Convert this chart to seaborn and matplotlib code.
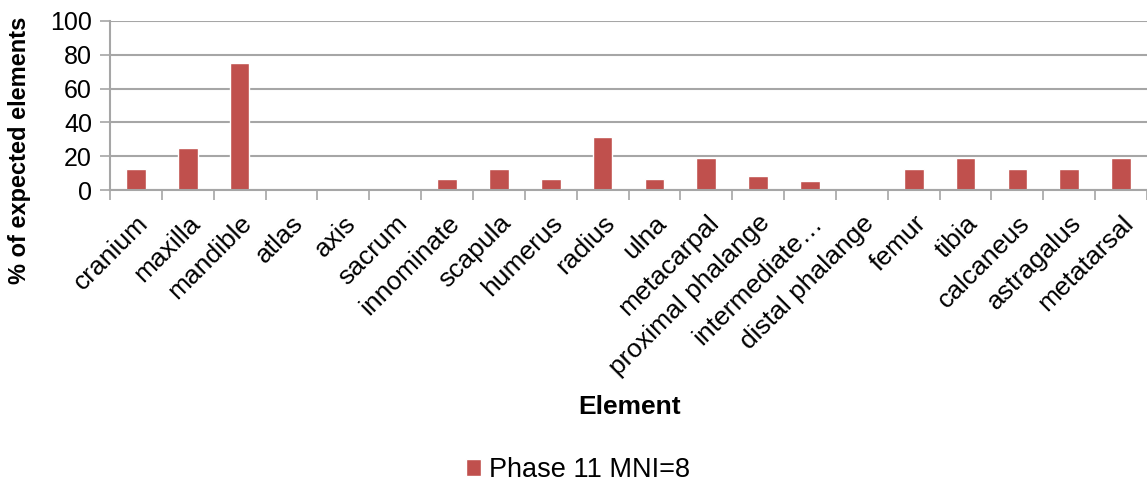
import pandas as pd
import matplotlib.pyplot as plt
import seaborn as sns
from matplotlib.ticker import FixedLocator

# Skeletal element representation, Phase 11 (MNI=8)
elements = ['cranium', 'maxilla', 'mandible', 'atlas', 'axis', 'sacrum', 'innominate',
            'scapula', 'humerus', 'radius', 'ulna', 'metacarpal', 'proximal phalange',
            'intermediate\u2026', 'distal phalange', 'femur', 'tibia', 'calcaneus',
            'astragalus', 'metatarsal']
pct_expected = [12.5, 25.0, 75.0, 0, 0, 0, 6.25, 12.5, 6.25, 31.25, 6.25, 18.75, 8.5,
                5.5, 0, 12.5, 18.75, 12.5, 12.5, 18.75]
y_ticks = [0, 20, 40, 60, 80, 100]

df = pd.DataFrame({'Element': elements, 'Pct': pct_expected})

sns.set_style("white")
plt.rcParams['font.family'] = ['Liberation Sans', 'DejaVu Sans']
plt.rcParams['text.color'] = 'black'
plt.rcParams['xtick.color'] = 'black'
plt.rcParams['ytick.color'] = 'black'

fig = plt.figure(figsize=(11.47, 4.88), dpi=100)
ax = fig.add_axes([110 / 1147, 1 - 190 / 488, 1 - 110 / 1147, (190 - 21) / 488])

sns.barplot(x='Element', y='Pct', data=df, color='#C0504D', width=0.38,
            label='Phase 11 MNI=8', ax=ax, saturation=1)

ax.set_ylim(0, 100)
ax.set_xlim(-0.5, len(elements) - 0.5)
ax.set_yticks(y_ticks)
ax.yaxis.grid(True, color='#A6A6A6', linewidth=1.5)
ax.set_axisbelow(True)

for side in ['top', 'right']:
    ax.spines[side].set_visible(False)
for side in ['left', 'bottom']:
    ax.spines[side].set_color('#A6A6A6')
    ax.spines[side].set_linewidth(1.5)

# Excel-style ticks between categories
ax.xaxis.set_minor_locator(FixedLocator([i - 0.5 for i in range(len(elements) + 1)]))
ax.tick_params(axis='x', which='minor', length=7, width=1.2, color='#A6A6A6', bottom=True)
ax.tick_params(axis='x', which='major', length=0, pad=15, labelsize=19, labelcolor='black')
ax.tick_params(axis='y', length=7, width=1.2, color='#A6A6A6', labelsize=18, pad=6,
               labelcolor='black', left=True)

plt.setp(ax.get_xticklabels(), rotation=45, ha='right', rotation_mode='anchor')

ax.set_xlabel('')
ax.set_ylabel('')
fig.text(20 / 1147, 1 - 150 / 488, '% of expected elements', rotation=90,
         ha='center', va='center', fontsize=17, fontweight='bold')
fig.text(630 / 1147, 1 - 407 / 488, 'Element', ha='center', va='center',
         fontsize=19, fontweight='bold')

handles, labels = ax.get_legend_handles_labels()
if ax.get_legend() is not None:
    ax.get_legend().remove()
fig.legend(handles, labels, loc='center', bbox_to_anchor=(578 / 1147, 1 - 470 / 488),
           frameon=False, fontsize=19.5, handlelength=0.55, handleheight=0.55,
           handletextpad=0.3)

plt.savefig('out.png', dpi=100)
